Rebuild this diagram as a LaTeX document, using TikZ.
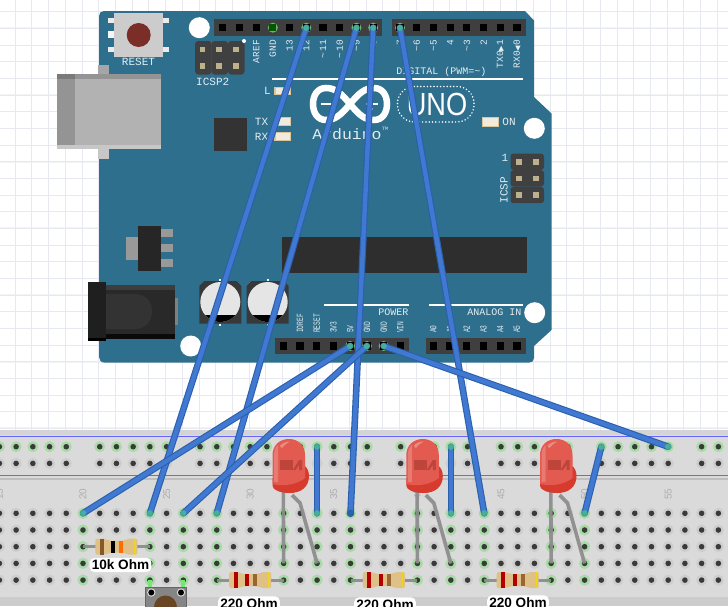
\documentclass[tikz,border=0pt]{standalone}
\usepackage{fontspec}
\usetikzlibrary{calc}
\setmainfont{Liberation Sans}
\setmonofont{Liberation Mono}
\newfontfamily\symfont{DejaVu Sans}
\definecolor{boardblue}{HTML}{2F6F8E}
\definecolor{gridline}{HTML}{E6E9F0}
\definecolor{gridmajor}{HTML}{F3F4F8}
\definecolor{headergray}{HTML}{3F3F3F}
\definecolor{labelwhite}{HTML}{E3ECEF}
\definecolor{pinhalo}{HTML}{6FB36A}
\definecolor{pintan}{HTML}{BDB08C}
\definecolor{ledtan}{HTML}{D9C69A}
\definecolor{ledface}{HTML}{F0EBDD}
\definecolor{breadgray}{HTML}{DADADA}
\definecolor{holehalo}{HTML}{CDCDCD}
\definecolor{holegreen}{HTML}{A8DBA5}
\definecolor{holedark}{HTML}{3A3A3A}
\definecolor{wireedge}{HTML}{2A60AC}
\definecolor{wirefill}{HTML}{4179D2}
\definecolor{leadgray}{HTML}{8E8E8E}
\definecolor{restan}{HTML}{DFC188}
\definecolor{ledred}{HTML}{E25A50}
\definecolor{leddeep}{HTML}{D63B2E}
\definecolor{ledinner}{HTML}{BE453B}
\definecolor{resetred}{HTML}{7B2E28}
\tikzset{
  boardlabel/.style={text=labelwhite,font=\ttfamily\fontsize{9.5}{10}\selectfont,inner sep=0pt},
  biglabel/.style={text=labelwhite,font=\ttfamily\fontsize{11}{12}\selectfont,inner sep=0pt},
  widelabel/.style={text=labelwhite,font=\ttfamily\fontsize{10}{11}\selectfont,inner sep=0pt},
  boardled/.style={fill=ledface,draw=ledtan,line width=1.2pt},
  mounthole/.style={fill=white},
  header/.style={fill=headergray},
  wire/.style={draw=wireedge,double=wirefill,double distance=4.4pt,line width=1.1pt,line cap=round},
  wireend/.style={fill=teal!60!green!70!white,opacity=0.65},
  lead/.style={draw=leadgray,line width=3.6pt,opacity=0.95},
  ohmlabel/.style={fill=white,rounded corners=5pt,inner sep=2.2pt,font=\bfseries\fontsize{13.6}{14}\selectfont,text=black}
}
\begin{document}
\begin{tikzpicture}[x=1pt,y=-1pt]
  \useasboundingbox (0,0) rectangle (728,606);
  \clip (0,0) rectangle (728,606);
  \fill[white] (0,0) rectangle (728,606);

  %grid behind everything
  \foreach \k in {0,4,...,28} \draw[gridmajor,line width=2pt] (0,{28.3+16.67*\k}) -- (728,{28.3+16.67*\k});
  \foreach \k in {0,...,25} \draw[gridline,line width=0.7pt] (0,{11.7+16.67*\k}) -- (728,{11.7+16.67*\k});
  \foreach \k in {0,...,43} \draw[gridline,line width=0.7pt] ({15+16.72*\k},0) -- ({15+16.72*\k},432);

  %board outline
  \fill[boardblue] (104,11) -- (525,11) -- (534,20.5) -- (534,97) -- (551.5,113.5) -- (551.5,330) -- (534,346)
    -- (534,358) .. controls (534,361) and (532,362.7) .. (529,362.7) -- (105,362.7)
    .. controls (101,362.7) and (99,360) .. (99,357) -- (99,16) .. controls (99,13) and (101,11) .. (104,11) -- cycle;
  %four mounting holes
  \fill[mounthole] (199.3,27.7) circle (10.5);
  \fill[mounthole] (534.3,128.3) circle (10.5);
  \fill[mounthole] (190.7,346) circle (10.5);
  \fill[mounthole] (534.7,312.7) circle (10.5);

  %usb socket
  \fill[black!35] (98,65) rectangle (109,74);
  \fill[black!22] (98,149) rectangle (109,159);
  \fill[black!30] (57.3,74) rectangle (160.7,149.3);
  \fill[black!42] (57.3,74) rectangle (75,144.5);
  \fill[black!42] (75,74) rectangle (160.7,78.5);
  \fill[black!22] (57.3,144.5) rectangle (160.7,149.3);
  \fill[black!52] (57.3,74) rectangle (75,78.5);

  %reset button
  \fill[black!8] (108,18) rectangle (169,23);
  \fill[black!8] (108,47) rectangle (169,52);
  \fill[black!4] (108,31) rectangle (114,38);
  \fill[black!20] (114.3,13.3) rectangle (162.7,56.7);
  \fill[resetred] (138.7,35) circle (12);
  \node[biglabel] (resetlabel) at (138.5,62) {RESET};

  %icsp2 block
  \foreach \x in {203.3,219.8,236.3} \fill[black!75,rounded corners=3pt] (\x-8.2,41) rectangle (\x+8.2,74.5);
  \foreach \x in {202.3,219,235.7} \foreach \y in {49.3,66} \fill[pintan] (\x-2.8,\y-2.8) rectangle (\x+2.8,\y+2.8);
  \fill[white] (244,41) circle (2);
  \node[biglabel] (icspa) at (212.7,82) {ICSP2};

  %icsp block
  \foreach \y in {161.7,178.3,195} \fill[black!75,rounded corners=3pt] (510.5,\y-8.2) rectangle (544,\y+8.2);
  \foreach \y in {161.7,178.3,195} \foreach \x in {519,535.7} \fill[pintan] (\x-2.8,\y-2.8) rectangle (\x+2.8,\y+2.8);
  \node[biglabel] (icspone) at (505,158) {1};
  \node[biglabel,rotate=90] (icspb) at (504,190) {ICSP};

  %chips
  \fill[black!80] (214,118) rectangle (247,151);
  \fill[black!82] (282,237) rectangle (527,273);

  %regulator
  \fill[black!40] (125.7,236.7) rectangle (138.5,260);
  \foreach \y in {229,244,259} \fill[black!40] (161,\y) rectangle (173,\y+8);
  \fill[black!85] (138.3,226) rectangle (161,270.7);

  %power jack
  \fill[black!50] (175,298) rectangle (178,325);
  \fill[black!84] (106,285) rectangle (175,338.7);
  \fill[black!76] (106,285) rectangle (175,289.5);
  \fill[black!96] (106,334) rectangle (175,338.7);
  \fill[black!80] (106,294) -- (135,294) .. controls (146,294) and (152,302) .. (152,311) .. controls (152,321) and (146,329) .. (135,329) -- (106,329) -- cycle;
  \fill[black!88] (87.7,282) rectangle (106,341);
  \fill[black] (87.7,337.5) rectangle (106,341);

  %capacitors
  \foreach \x in {220.3,267.7} {
    \fill[black!78] (\x-21,286) -- (\x-16,281) -- (\x+16,281) -- (\x+21,286) -- (\x+21,323.7) -- (\x-21,323.7) -- cycle;
    \fill[black!10] (\x,302) circle (20);
    \begin{scope}
      \clip (\x-25,315.5) rectangle (\x+25,330);
      \fill[black] (\x,302) circle (20);
    \end{scope}
    \fill[black!5] (\x-1,279) rectangle (\x+1,281);
    \fill[black!5] (\x-1,324) rectangle (\x+1,326);
  }

  %headers, the pins keep their index as name
  \fill[header] (214.3,19.3) rectangle (381.7,35.7);
  \fill[header] (392.3,19.3) rectangle (526,35.7);
  \fill[header] (275,337.7) rectangle (409,354.3);
  \fill[header] (426,337.7) rectangle (526,354.3);
  \foreach \i in {0,...,9} \coordinate (t\i) at ({222.7+16.72*\i},27.7);
  \foreach \i in {0,...,7} \coordinate (u\i) at ({400+16.72*\i},27.7);
  \foreach \i in {0,...,7} \coordinate (p\i) at ({283.3+16.72*\i},346);
  \foreach \i in {0,...,5} \coordinate (a\i) at ({433.3+16.72*\i},346);
  \foreach \n in {t3,t5,t8,t9,u0,p4,p5,p6} \fill[pinhalo] (\n) circle (5);
  \foreach \n in {t0,t1,t2,t3,t4,t5,t6,t7,t8,t9,u0,u1,u2,u3,u4,u5,u6,u7,p0,p1,p2,p3,p4,p5,p6,p7,a0,a1,a2,a3,a4,a5}
    \fill[black] ([xshift=-3.6pt,yshift=-3.6pt]\n) rectangle ([xshift=3.6pt,yshift=3.6pt]\n);
  \fill[green!35!black] ([xshift=-3.6pt,yshift=-3.6pt]t3) rectangle ([xshift=3.6pt,yshift=3.6pt]t3);

  %digital labels
  \foreach \n [count=\i from 2] in {AREF,GND,13,12,\textasciitilde\,11,\textasciitilde\,10,\textasciitilde 9,8}
    \node[boardlabel,rotate=90,anchor=east] (tl\i) at ({222.7+16.72*\i},40) {\n};
  \foreach \n [count=\i from 0] in {7,\textasciitilde 6,\textasciitilde 5,4,\textasciitilde 3,2,TX0{\symfont\fontsize{7}{8}\selectfont ▶}1,RX0{\symfont\fontsize{7}{8}\selectfont ◀}0}
    \node[boardlabel,rotate=90,anchor=east] (ul\i) at ({400+16.72*\i},40) {\n};
  \draw[white,line width=2pt] (272,79) -- (522.5,79);
  \node[widelabel,anchor=east] (digital) at (486.5,71.5) {DIGITAL (PWM=\textasciitilde)};

  %power labels
  \foreach \n [count=\i from 1] in {IOREF,RESET,3V3,5V,GND,GND,VIN}
    \node[boardlabel,rotate=90,xscale=0.66,anchor=west] (pl\i) at ({283.3+16.72*\i},333) {\n};
  \foreach \n [count=\i from 0] in {A0,A1,A2,A3,A4,A5}
    \node[boardlabel,rotate=90,xscale=0.66,anchor=west] (al\i) at ({433.3+16.72*\i},333) {\n};
  \draw[white,line width=2pt] (324,304.5) -- (409,304.5);
  \draw[white,line width=2pt] (429,304.5) -- (522.7,304.5);
  \node[widelabel,anchor=east] (power) at (408.5,312.5) {POWER};
  \node[widelabel,anchor=east] (analog) at (521.7,312.5) {ANALOG IN};

  %small leds on the board
  \fill[boardled] (275,87.5) rectangle (290.5,94.5);
  \fill[boardled] (275,117.5) rectangle (290.5,125.5);
  \fill[boardled] (275,132.5) rectangle (290.5,140.5);
  \fill[boardled] (482.5,117.5) rectangle (498.5,126.5);
  \node[biglabel] (ledl) at (267.5,91) {L};
  \node[biglabel] (ledtx) at (261.5,122) {TX};
  \node[biglabel] (ledrx) at (261.5,137) {RX};
  \node[biglabel] (ledon) at (509,122) {ON};

  %logo
  \draw[white,line width=6.5pt] (350,104) .. controls (341,93) and (335,88) .. (326,88) .. controls (317,88) and (313,96) .. (313,104)
    .. controls (313,112) and (317,120) .. (326,120) .. controls (335,120) and (341,115) .. (350,104)
    .. controls (359,93) and (365,88) .. (374,88) .. controls (383,88) and (387,96) .. (387,104)
    .. controls (387,112) and (383,120) .. (374,120) .. controls (365,120) and (359,115) .. (350,104) -- cycle;
  \draw[white,line width=2.4pt] (321,104) -- (333,104);
  \draw[white,line width=2.4pt] (366,104) -- (378,104);
  \draw[white,line width=2.4pt] (372,98) -- (372,110);
  \draw[white,line width=1.7pt,line cap=round,dash pattern=on 0pt off 3.3pt,rounded corners=17pt] (397.5,86.5) rectangle (474,122);
  \node[text=white,inner sep=0pt,xscale=0.85,font=\fontsize{32}{34}\selectfont] (uno) at (437,104.5) {UNO};
  \node[text=labelwhite,inner sep=0pt,xscale=1.1,font=\ttfamily\fontsize{15}{16}\selectfont] (arduino) at (347,134) {Arduino};
  \node[text=labelwhite,inner sep=0pt,font=\ttfamily\fontsize{5}{6}\selectfont] (trademark) at (385,129) {TM};

  %breadboard
  \fill[breadgray] (0,430) rectangle (728,606);
  \fill[black!17] (0,430) rectangle (728,435);
  \fill[black!20] (0,597) rectangle (728,606);
  \draw[blue!60!white,line width=1pt] (0,436) -- (728,436);
  \draw[red!75!white,line width=1pt] (0,475) -- (728,475);
  \draw[black!25,line width=1.2pt] (0,479) -- (728,479);
  \foreach \c in {15,20,...,55}
    \node[rotate=90,text=black!32,inner sep=0pt,font=\fontsize{10}{11}\selectfont] (col\c) at ({83+(\c-20)*16.72},494) {\c};

  %rail holes
  \foreach \g in {15,21,...,57} \foreach \k in {0,...,4} {
    \pgfmathtruncatemacro{\c}{\g+\k}
    \coordinate (r\c-1) at ({83+(\c-20)*16.72},446.7);
    \coordinate (r\c-2) at ({83+(\c-20)*16.72},463.4);
    \fill[holegreen] (r\c-1) circle (5.5);
    \fill[holehalo] (r\c-2) circle (5.5);
    \fill[holedark] (r\c-1) circle (2.8);
    \fill[holedark] (r\c-2) circle (2.8);
  }
  %main holes
  \foreach \c in {15,...,59} \foreach \r in {1,...,5} {
    \coordinate (h\c-\r) at ({83+(\c-20)*16.72},{513.3+(\r-1)*16.7});
    \fill[holehalo] (h\c-\r) circle (5.5);
  }
  \foreach \c in {20,24,26,28,32,34,36,40,42,44,48,50} \foreach \r in {1,...,5}
    \fill[holegreen] (h\c-\r) circle (5.5);
  \foreach \c in {15,...,59} \foreach \r in {1,...,5}
    \fill[holedark] (h\c-\r) circle (2.8);

  %push button
  \draw[holegreen!70!green,line width=4pt] (h24-5) -- ++(0,9);
  \draw[holegreen!70!green,line width=4pt] (h26-5) -- ++(0,9);
  \fill[black!48,draw=black!60,line width=1pt] (145.5,587) rectangle (186,612);
  \fill[black!15] (151.3,592.5) circle (4.2);
  \fill[black!15] (181,592.5) circle (4.2);
  \fill[black] (151.3,592.5) circle (3);
  \fill[black] (181,592.5) circle (3);
  \fill[brown!55!black] (165.5,607) circle (11.5);

  %resistors, body position and the four bands
  \foreach \a/\b/\r/\bandone/\bandtwo/\bandthree in {h20/h24/3/brown!70!black/black/orange!85!red,h28/h32/5/red!70!black/red!70!black/brown!80!black,h36/h40/5/red!70!black/red!70!black/brown!80!black,h44/h48/5/red!70!black/red!70!black/brown!80!black} {
    \draw[lead,line width=3pt] (\a-\r) -- (\b-\r);
    \begin{scope}[shift={($(\a-\r)!0.5!(\b-\r)$)}]
      \fill[restan,rounded corners=2pt] (-21,-8) -- (-11,-8) -- (-8,-6) -- (8,-6) -- (11,-8) -- (21,-8) -- (21,8) -- (11,8) -- (8,6) -- (-8,6) -- (-11,8) -- (-21,8) -- cycle;
      \fill[\bandone] (-16.5,-7.8) rectangle (-12.5,7.8);
      \fill[\bandtwo] (-5,-6) rectangle (-1,6);
      \fill[\bandthree] (3,-6) rectangle (7,6);
      \fill[yellow!70!brown] (18,-7.8) rectangle (19.5,7.8);
    \end{scope}
  }

  %leds with leads
  \foreach \dx/\n in {0/32,133.8/40,267.5/48} {
    \pgfmathtruncatemacro{\m}{\n+2}
    \draw[lead] (h\n-4) -- ([xshift=\dx pt]283.3,488);
    \draw[lead] ([xshift=\dx pt]292,495) -- ([xshift=\dx pt]300,503) -- (h\m-4);
    \begin{scope}[xshift=\dx pt]
      \fill[leddeep] (272.5,478) -- (272.5,486) .. controls (273,490) and (280,493) .. (290,493) .. controls (301,493) and (309,487) .. (309,476)
        .. controls (309,471) and (307,468) .. (305,466) -- (300,480) -- cycle;
      \fill[ledred] (272.5,484) -- (272.5,455) .. controls (272.5,445) and (280,439) .. (289,439) .. controls (298,439) and (305,445) .. (305,455) -- (305,478)
        .. controls (298,484) and (284,487) .. (272.5,484) -- cycle;
      \fill[ledinner] (280,460) rectangle (293,470);
      \fill[ledinner] (293,470) -- (299,460) -- (302,460) -- (302,470) -- (299,470) -- (299,465) -- (295.5,470) -- cycle;
      \fill[white,opacity=0.2] (274,482) -- (274,456) .. controls (274,450) and (276,447) .. (278,445) -- (278,482) -- cycle;
      \fill[white,opacity=0.3] (280,446) .. controls (282,443) and (286,441.5) .. (290,441.5) .. controls (287,443) and (284,445) .. (282,448) -- cycle;
    \end{scope}
  }

  %labels of the resistors
  \node[ohmlabel] (ohma) at (120.5,565) {10k Ohm};
  \node[ohmlabel] (ohmb) at (249,603.5) {220 Ohm};
  \node[ohmlabel] (ohmc) at (385,604.5) {220 Ohm};
  \node[ohmlabel] (ohmd) at (518,602.5) {220 Ohm};

  %wires
  \draw[wire] (t5) -- (h24-1);
  \draw[wire] (t8) -- (h28-1);
  \draw[wire] (t9) -- (h36-1);
  \draw[wire] (u0) -- (h44-1);
  \draw[wire] (p4) -- (h20-1);
  \draw[wire] (p5) -- (h26-1);
  \draw[wire] (p6) -- (r55-1);
  \draw[wire] (r34-1) -- (h34-1);
  \draw[wire] (r42-1) -- (h42-1);
  \draw[wire] (r51-1) -- (h50-1);
  \foreach \n in {t5,t8,t9,u0,p4,p5,p6,h24-1,h28-1,h44-1,h20-1,h26-1,r55-1,r34-1,h34-1,r42-1,h42-1,r51-1,h50-1}
    \fill[wireend] (\n) circle (3.2);
  \fill[wireedge] (h36-1) circle (3.8);
\end{tikzpicture}
\end{document}
